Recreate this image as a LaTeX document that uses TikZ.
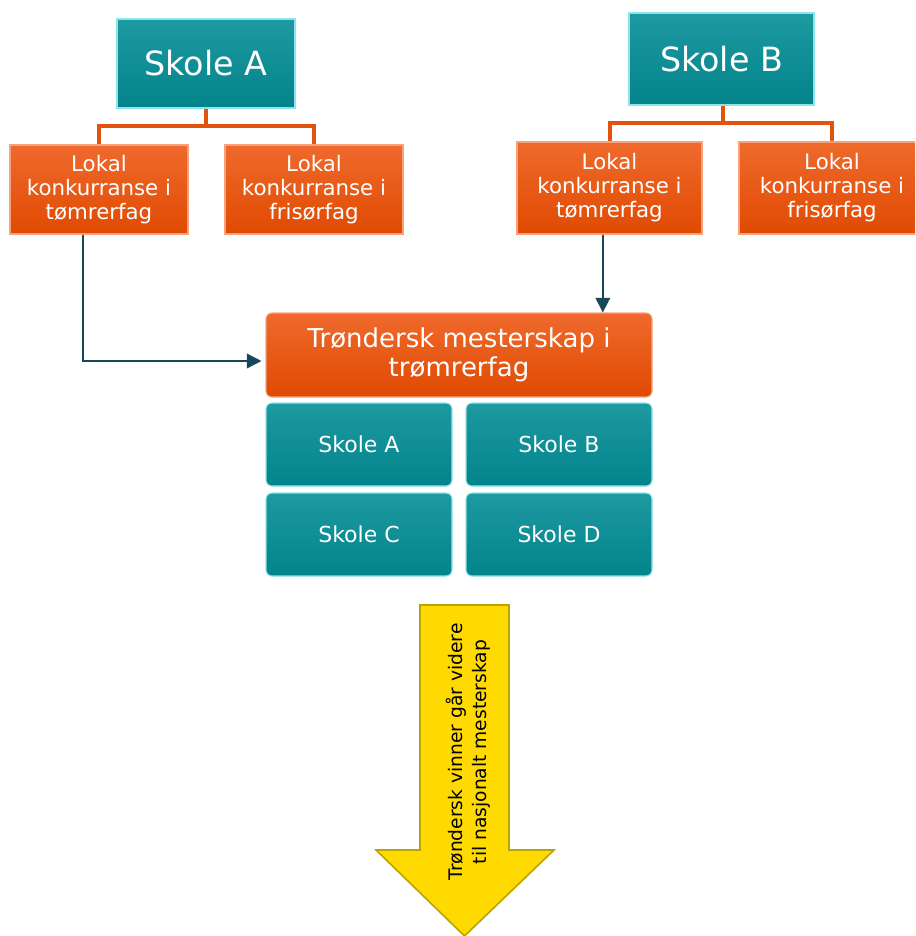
\documentclass[tikz,border=0pt]{standalone}
\usepackage{fontspec}
\setmainfont{DejaVu Sans}
\usetikzlibrary{arrows.meta,positioning}

\definecolor{tealtop}{HTML}{1E9AA1}
\definecolor{tealbot}{HTML}{03838A}
\definecolor{tealrim}{HTML}{8FE3EA}
\definecolor{orgtop}{HTML}{EF6A2C}
\definecolor{orgbot}{HTML}{E04A02}
\definecolor{orgrim}{HTML}{F7A27C}
\definecolor{orgline}{HTML}{E2540E}
\definecolor{navyline}{HTML}{17475A}
\definecolor{gold}{HTML}{FFDA00}
\definecolor{goldrim}{HTML}{BBA300}

\begin{document}
\begin{tikzpicture}[x=0.75pt,y=-0.75pt,>={Triangle[length=11pt,width=11pt]},
  every node/.style={text=white,align=center,inner sep=0pt},
  skole/.style={draw=tealrim,line width=0.8pt,top color=tealtop,bottom color=tealbot},
  lokal/.style={draw=orgrim,line width=0.8pt,top color=orgtop,bottom color=orgbot,
    minimum height=66.75pt,font=\fontsize{16}{18}\selectfont},
  lag/.style={skole,rounded corners=4.5pt,minimum width=139.5pt,minimum height=62.25pt,
    font=\fontsize{16.5}{18}\selectfont},
  tree/.style={draw=orgline,line width=3pt},
  link/.style={draw=navyline,line width=1.1pt,->}]
  \useasboundingbox (0,0) rectangle (915,936);
  \clip (0,0) rectangle (915,936);

  % schools and local contests
  \node[skole,minimum width=133.5pt,minimum height=66.75pt,font=\fontsize{25}{28}\selectfont]
    (skA) at (206,63.5) {Skole A};
  \node[skole,minimum width=138.75pt,minimum height=69pt,font=\fontsize{25}{28}\selectfont]
    (skB) at (721.5,59) {Skole B};
  \node[lokal,minimum width=133.5pt] (lokA1) at (99,189.5) {Lokal\\konkurranse i\\tømrerfag};
  \node[lokal,minimum width=133.5pt] (lokA2) at (314,189.5) {Lokal\\konkurranse i\\frisørfag};
  \node[lokal,minimum width=138.75pt,minimum height=69pt] (lokB1) at (609.5,188)
    {Lokal\\konkurranse i\\tømrerfag};
  \node[lokal,minimum width=139.5pt,minimum height=69pt] (lokB2) at (832,188)
    {Lokal\\konkurranse i\\frisørfag};

  \coordinate (jA) at (206,126);
  \coordinate (jB) at (723,123);
  \draw[tree] (skA.south) -- (jA);
  \draw[tree] (lokA1.north) |- (jA) -| (lokA2.north);
  \draw[tree] (skB.south -| jB) -- (jB);
  \draw[tree] (lokB1.north) |- (jB) -| (lokB2.north);

  % regional final
  \node[lokal,rounded corners=4.5pt,minimum width=289.5pt,minimum height=63pt,
    font=\fontsize{19.5}{22}\selectfont] (trm) at (459,355)
    {Trøndersk mesterskap i\\trømrerfag};
  \node[lag] (fA) at (359,444.5) {Skole A};
  \node[lag] (fB) at (559,444.5) {Skole B};
  \node[lag] (fC) at (359,534.5) {Skole C};
  \node[lag] (fD) at (559,534.5) {Skole D};

  \draw[link] ([xshift=-12pt]lokA1.south) |- ([yshift=-4.5pt,xshift=-3pt]trm.west);
  \draw[link] ([xshift=-5pt]lokB1.south) -- ([xshift=-5pt]lokB1.south |- trm.north);

  % on to the national final
  \draw[fill=gold,draw=goldrim,line width=1.2pt]
    (420,605) -- (509,605) -- (509,850) -- (554,850) -- (464.5,936)
    -- (376,850) -- (420,850) -- cycle;
  \node[text=black,rotate=90,font=\fontsize{14}{18}\selectfont] (win) at (468,752)
    {Trøndersk vinner går videre\\til nasjonalt mesterskap};
\end{tikzpicture}
\end{document}
